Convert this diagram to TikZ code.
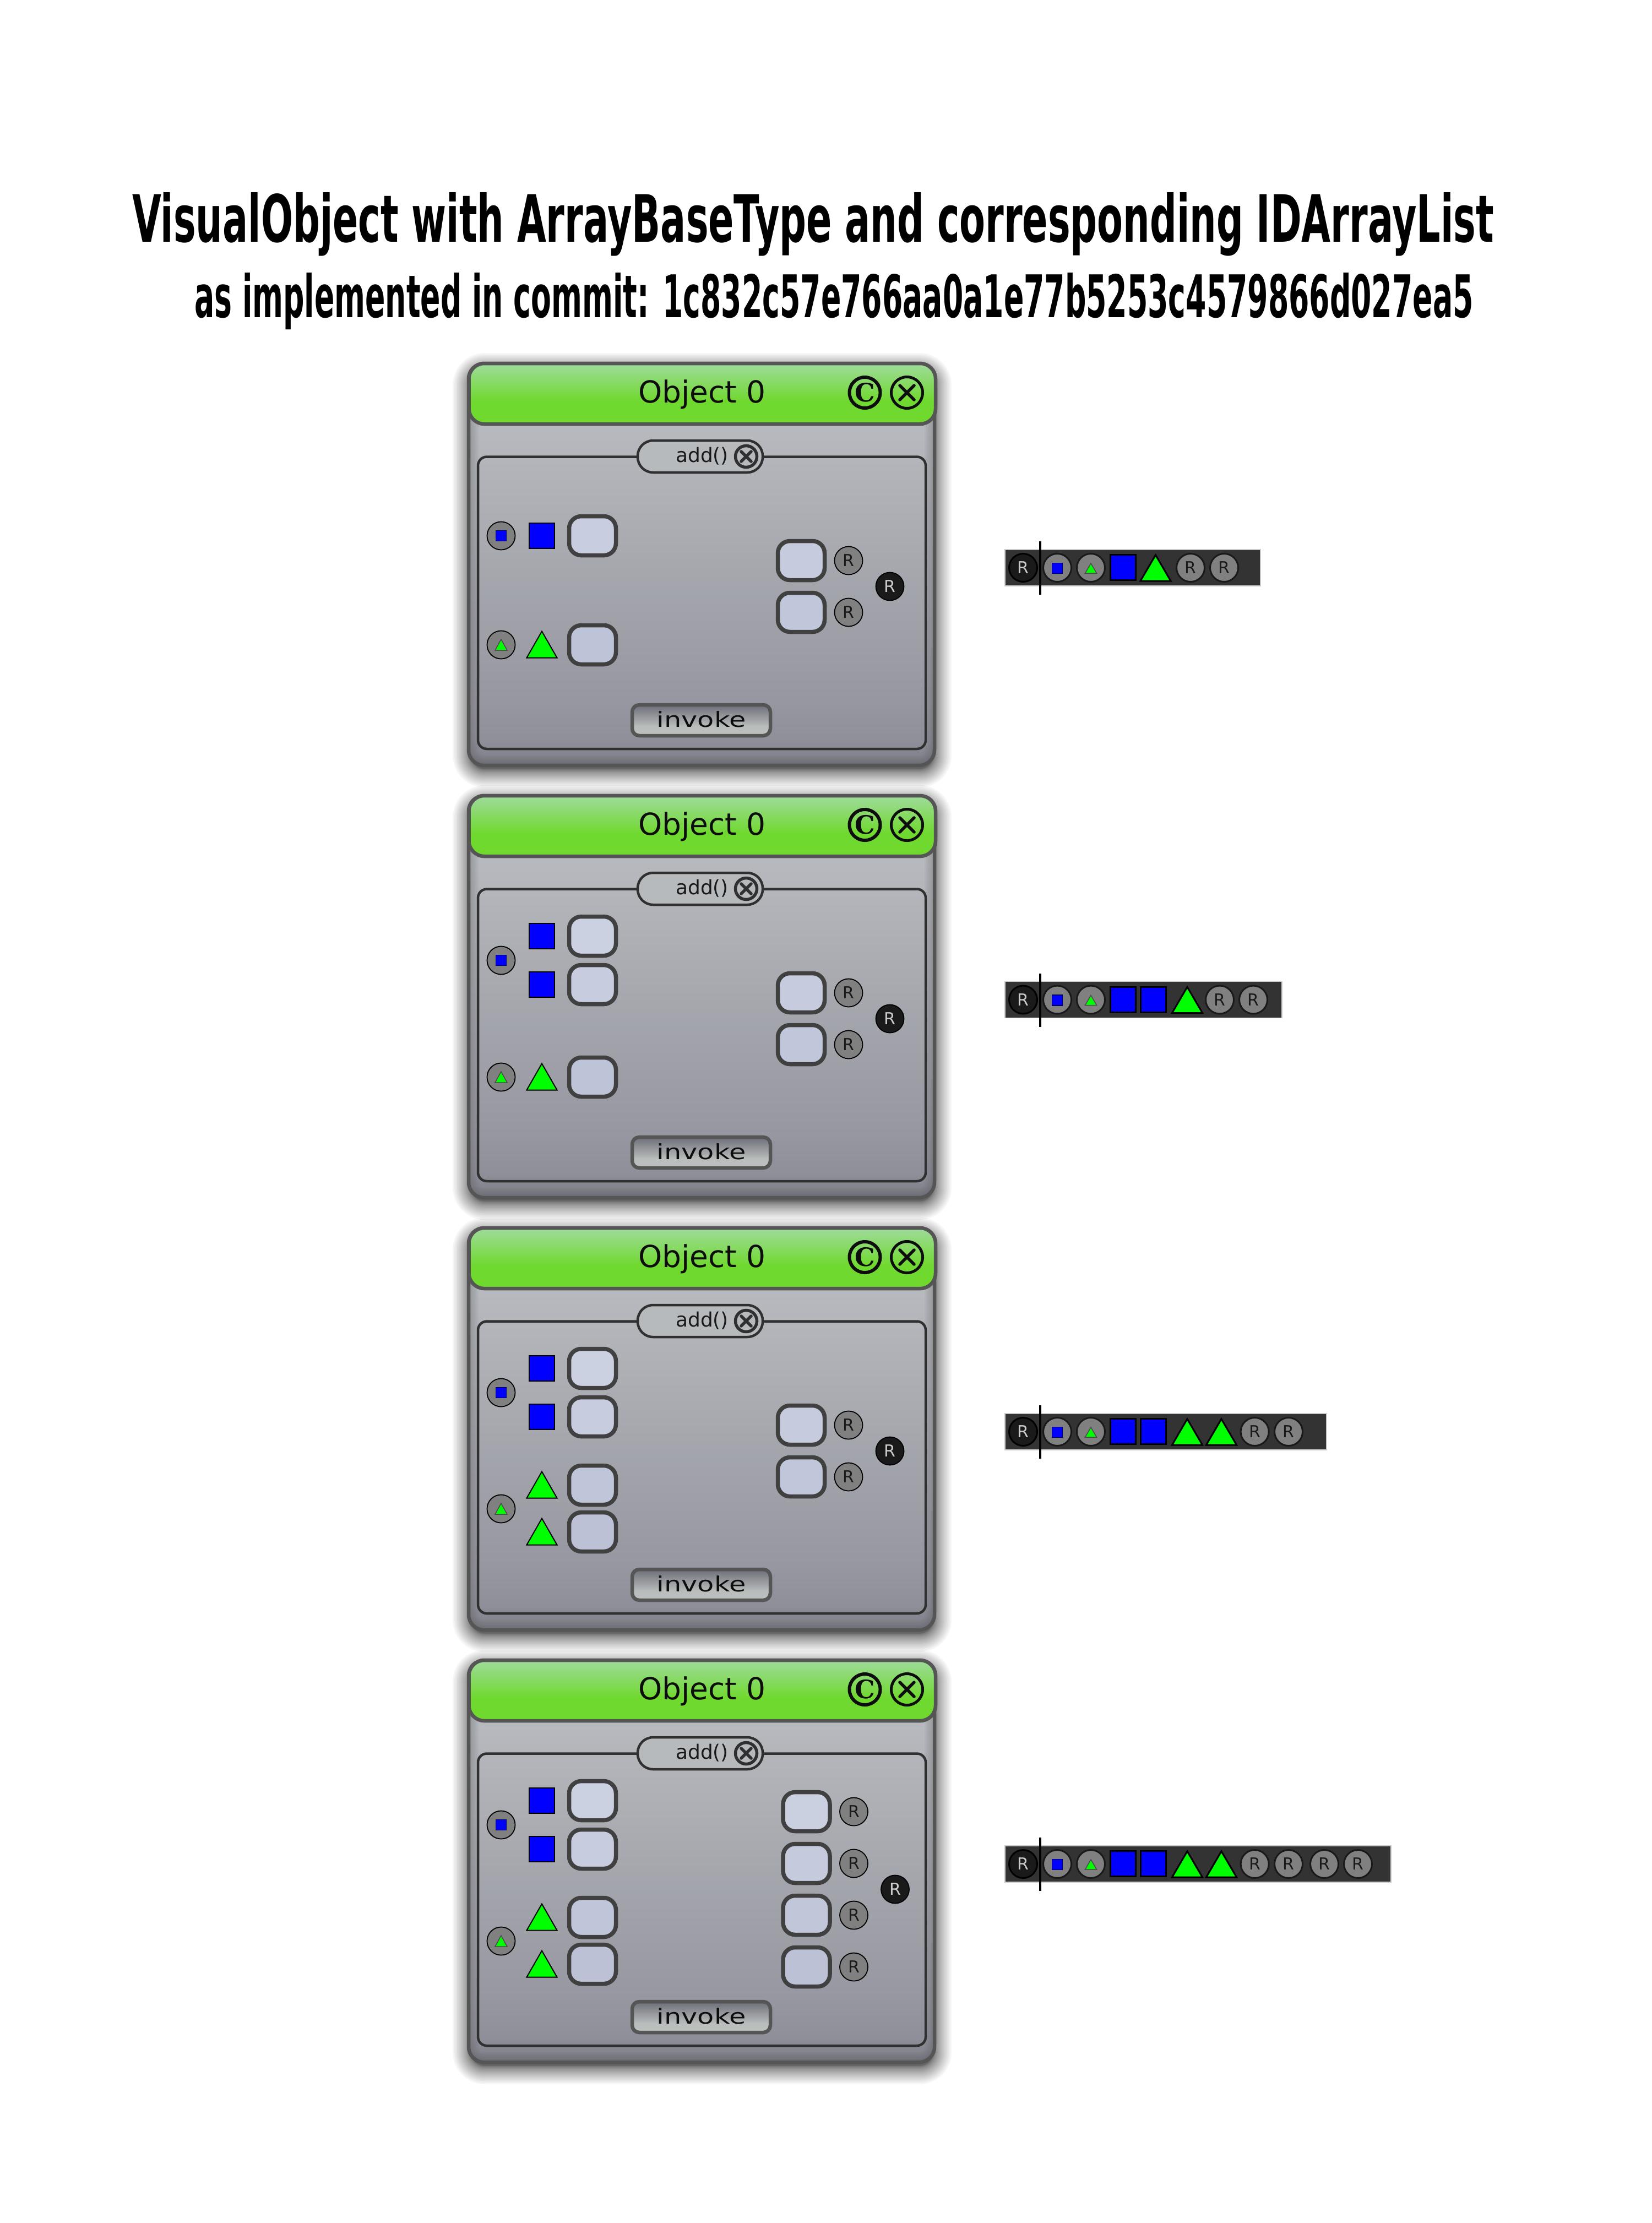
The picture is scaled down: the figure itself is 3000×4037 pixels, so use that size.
\documentclass[tikz,border=0pt]{standalone}
\usepackage{fontspec}
\usepackage{graphicx}
\setmainfont{DejaVu Sans}
\newfontfamily\copyfont{DejaVu Serif}
\definecolor{edgegray}{HTML}{555555}
\definecolor{framegray}{HTML}{303030}
\definecolor{boxtop}{HTML}{CBD1E1}
\definecolor{boxbot}{HTML}{BCC1D6}
\definecolor{portgray}{HTML}{808080}
\definecolor{blackport}{HTML}{1A1A1A}
\definecolor{barfill}{HTML}{333333}
\definecolor{pillfill}{HTML}{B7BABD}
\definecolor{bodyA}{HTML}{7B7C85}
\definecolor{bodyB}{HTML}{8E8F98}
\definecolor{bodyC}{HTML}{9697A0}
\definecolor{bodyD}{HTML}{BEC1C4}
\definecolor{titleA}{HTML}{6FD92E}
\definecolor{titleB}{HTML}{70D92F}
\definecolor{titleC}{HTML}{9FDB9C}
\definecolor{invA}{HTML}{BCC0BF}
\definecolor{invB}{HTML}{B9BDBC}
\definecolor{invC}{HTML}{6D6E78}
\pgfdeclareverticalshading{bodyshade}{100bp}{
 color(0bp)=(bodyA);
 color(25bp)=(bodyA);
 color(28bp)=(bodyB);
 color(33bp)=(bodyC);
 color(75bp)=(bodyD);
 color(100bp)=(bodyD)}
\pgfdeclareverticalshading{titleshade}{100bp}{
 color(0bp)=(titleA);
 color(25bp)=(titleA);
 color(44bp)=(titleB);
 color(75bp)=(titleC);
 color(100bp)=(titleC)}
\pgfdeclareverticalshading{invokeshade}{100bp}{
 color(0bp)=(invA);
 color(25bp)=(invA);
 color(40bp)=(invB);
 color(75bp)=(invC);
 color(100bp)=(invC)}
\tikzset{
 x=1pt,y=-1pt,
 portcircle/.style={circle,draw=black,fill=portgray,line width=1.8pt,minimum size=51pt,inner sep=0pt,font=\fontsize{30}{32}\selectfont,text=black!90},
 barcircle/.style={portcircle,line width=3pt,draw=black!90},
 blackcircle/.style={portcircle,fill=blackport,text=black!20},
 barblack/.style={blackcircle,line width=3pt,draw=black},
 slotbox/.style={rectangle,draw=black!75,line width=7.5pt,rounded corners=22pt,minimum width=85pt,minimum height=71pt,inner sep=0pt},
 bigsq/.style={rectangle,draw=black,fill=blue,line width=2pt,minimum size=46pt,inner sep=0pt},
 barsq/.style={bigsq,line width=3pt},
 smallsq/.style={rectangle,draw=black!60!blue,fill=blue,line width=1.5pt,minimum size=19pt,inner sep=0pt},
 bigtri/.style={draw=black,fill=green,line width=2pt,line join=miter},
 bartri/.style={bigtri,line width=3pt},
 smalltri/.style={draw=black!70,fill=green,line width=1.5pt},
 titletext/.style={anchor=base west,inner sep=0pt,font=\bfseries},
 objtext/.style={inner sep=0pt,text=black!95,font=\fontsize{55}{60}\selectfont},
 addtext/.style={inner sep=0pt,text=black!90,font=\fontsize{36}{40}\selectfont},
 invtext/.style={inner sep=0pt,text=black!95,font=\fontsize{38}{42}\selectfont},
}
\newcommand{\trishape}[4]{(#1-#3/2,#2+#4/2) -- (#1,#2-#4/2) -- (#1+#3/2,#2+#4/2) -- cycle}
% #1 name #2 offset y #3 square rows #4 square port y #5 triangle rows #6 triangle port y #7 right rows #8 right box x #9 black R y
\newcommand{\objpanel}[9]{%
\begin{scope}[shift={(0,#2)}]
 \foreach \k in {0,...,23}{
  \pgfmathsetmacro\e{34*(1-\k/24)*(1-\k/24)-4}
  \pgfmathsetmacro\rr{max(4,28+\e)}
  \fill[black,opacity=.035,rounded corners=\rr pt] (852-\e,671-\e) rectangle (1698+\e,1400+\e);
 }
 \begin{scope}
  \clip[rounded corners=28pt] (851,660) rectangle (1697,1390);
  \shade[shading=bodyshade] (851,660) rectangle (1697,1390);
  \foreach \w in {6,12,...,36}{
   \draw[draw=black!70,opacity=.05,line width=\w pt,rounded corners=28pt] (851,660) rectangle (1697,1390);
  }
 \end{scope}
 \draw[draw=edgegray,line width=6.5pt,rounded corners=28pt] (851,660) rectangle (1697,1390);
 \path[shading=titleshade,rounded corners=28pt] (851.5,660) rectangle (1699,770);
 \draw[draw=edgegray,line width=6.5pt,rounded corners=28pt] (851.5,660) rectangle (1699,770);
 \node[objtext] (#1title) at (1275,716) {Object 0};
 \draw[draw=black!95,line width=6pt] (1570.5,713) circle (28pt);
 \node[inner sep=0pt,text=black!95,font=\copyfont\bfseries\fontsize{46}{50}\selectfont] (#1copy) at (1570.5,713) {C};
 \draw[draw=black!95,line width=5pt] (1647,713) circle (28.5pt);
 \draw[draw=black!95,line width=5.5pt,line cap=round] (1634,700) -- (1660,726) (1660,700) -- (1634,726);
 \draw[draw=framegray,line width=4.5pt,rounded corners=16pt] (868,829.5) rectangle (1681,1360);
 \path[fill=pillfill,draw=framegray,line width=4.5pt,rounded corners=28pt] (1158,800) rectangle (1385,858);
 \node[addtext] (#1add) at (1275,828) {add()};
 \draw[draw=framegray,line width=5.5pt] (1355,829) circle (19.5pt);
 \draw[draw=framegray,line width=5.5pt,line cap=round] (1346,820) -- (1364,838) (1364,820) -- (1346,838);
 \foreach \yy [count=\i] in {#3}{
  \pgfmathtruncatemacro\pc{max(0,min(100,(1220-\yy)/3.05))}
  \node[bigsq] (#1sq\i) at (984,\yy) {};
  \node[slotbox,fill=boxtop!\pc!boxbot] (#1sb\i) at (1076,\yy) {};
 }
 \node[portcircle] (#1psq) at (910,#4) {};
 \node[smallsq] (#1psqi) at (910,#4) {};
 \foreach \yy [count=\i] in {#5}{
  \pgfmathtruncatemacro\pc{max(0,min(100,(1220-\yy)/3.05))}
  \draw[bigtri] \trishape{984}{\yy-0.5}{55}{48};
  \node[slotbox,fill=boxtop!\pc!boxbot] (#1tb\i) at (1076,\yy) {};
 }
 \node[portcircle] (#1ptr) at (910,#6) {};
 \draw[smalltri] \trishape{910}{#6}{22}{20};
 \foreach \yy [count=\i] in {#7}{
  \pgfmathtruncatemacro\pc{max(0,min(100,(1220-\yy)/3.05))}
  \node[slotbox,fill=boxtop!\pc!boxbot] (#1rb\i) at (#8,\yy) {};
  \node[portcircle] (#1rc\i) at (#8+86,\yy) {R};
 }
 \node[blackcircle] (#1rr) at (#8+161,#9) {R};
 \path[shading=invokeshade,rounded corners=13pt] (1148,1280) rectangle (1399,1336);
 \draw[draw=edgegray,line width=6.5pt,rounded corners=13pt] (1148,1280) rectangle (1399,1336);
 \node[invtext] (#1inv) at (1273.5,1306) {\scalebox{1.3}[1]{invoke}};
\end{scope}}
% #1 name #2 y centre #3 right end #4 squares x #5 triangles x #6 R x
\newcommand{\idbar}[6]{%
\begin{scope}[shift={(0,#2)}]
 \draw[draw=black!20,fill=barfill,line width=1.5pt] (1825,-33) rectangle (#3,33);
 \node[barblack] (#1r) at (1858,0) {R};
 \node[barcircle] (#1ps) at (1920,0) {};
 \node[smallsq] (#1psi) at (1920,1) {};
 \node[barcircle] (#1pt) at (1981,0) {};
 \draw[smalltri] \trishape{1981}{1}{21}{18};
 \foreach \xx [count=\i] in {#4}{\node[barsq] (#1sq\i) at (\xx,-0.5) {};}
 \foreach \xx [count=\i] in {#5}{\draw[bartri] \trishape{\xx}{0.5}{55}{47};}
 \foreach \xx [count=\i] in {#6}{\node[barcircle] (#1c\i) at (\xx,0) {R};}
 \coordinate (#1top) at (1889,-48);
 \coordinate (#1bot) at (1889,49);
 \draw[draw=black,line width=3.5pt] (#1top) -- (#1bot);
\end{scope}}
\begin{document}
\begin{tikzpicture}
\useasboundingbox (0,0) rectangle (3000,4037);
\fill[white] (0,0) rectangle (3000,4037);
\node[titletext] (head) at (240,439) {\resizebox{2472pt}{90pt}{VisualObject with ArrayBaseType and corresponding IDArrayList}};
\node[titletext] (sub) at (353,576) {\resizebox{2321pt}{81pt}{as implemented in commit: 1c832c57e766aa0a1e77b5253c4579866d027ea5}};
\objpanel{a}{0}{973}{973}{1171}{1171}{1018,1112}{1455}{1065}
\objpanel{b}{785}{915,1003}{959}{1171}{1171}{1018,1112}{1455}{1065}
\objpanel{c}{1570}{915,1003}{959}{1127,1212}{1170}{1018,1112}{1455}{1065}
\objpanel{d}{2355}{915,1003}{959}{1127,1212}{1170}{935,1029,1123,1217}{1464.5}{1076}
\idbar{m}{1031}{2289}{2039}{2098.5}{2162,2223}
\idbar{n}{1815.5}{2328}{2039.3,2094.5}{2156}{2215,2276}
\idbar{o}{2600}{2409}{2039.3,2094.5}{2156,2218}{2278.6,2340}
\idbar{p}{3385}{2526}{2039.3,2094.5}{2156,2218}{2278.6,2340,2405,2466}
\end{tikzpicture}
\end{document}
